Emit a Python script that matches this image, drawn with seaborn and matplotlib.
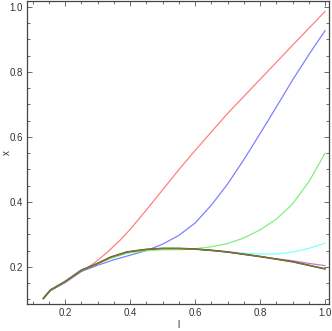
import numpy as np
import pandas as pd
import seaborn as sns
import matplotlib.pyplot as plt
from matplotlib.ticker import MultipleLocator

# values
l_red = [0.133, 0.155, 0.2, 0.25, 0.29, 0.33, 0.37, 0.4, 0.45, 0.5, 0.55, 0.6, 0.7, 0.8, 0.9, 1.0]
x_red = [0.102, 0.127, 0.152, 0.186, 0.212, 0.245, 0.283, 0.315, 0.375, 0.437, 0.499, 0.558, 0.672, 0.777, 0.882, 0.986]

l_blue = [0.133, 0.155, 0.2, 0.25, 0.3, 0.35, 0.4, 0.45, 0.5, 0.55, 0.6, 0.65, 0.7, 0.75, 0.8, 0.85, 0.9, 0.95, 1.0]
x_blue = [0.102, 0.127, 0.152, 0.186, 0.205, 0.222, 0.236, 0.25, 0.27, 0.297, 0.335, 0.39, 0.455, 0.53, 0.61, 0.692, 0.775, 0.853, 0.927]

l_green = [0.133, 0.155, 0.2, 0.25, 0.29, 0.34, 0.39, 0.45, 0.5, 0.55, 0.6, 0.65, 0.7, 0.75, 0.8, 0.85, 0.9, 0.95, 1.0]
x_green = [0.102, 0.128, 0.154, 0.189, 0.205, 0.226, 0.242, 0.25, 0.253, 0.253, 0.256, 0.262, 0.272, 0.289, 0.314, 0.347, 0.394, 0.462, 0.55]

l_dark = [0.133, 0.155, 0.2, 0.25, 0.29, 0.34, 0.39, 0.45, 0.5, 0.55, 0.6, 0.65, 0.7, 0.75, 0.8, 0.85, 0.9, 0.95, 1.0]
x_dark = [0.103, 0.129, 0.155, 0.19, 0.206, 0.23, 0.246, 0.254, 0.257, 0.257, 0.255, 0.251, 0.246, 0.239, 0.232, 0.224, 0.216, 0.205, 0.194]

l_purple = [0.6, 0.65, 0.7, 0.75, 0.8, 0.85, 0.9, 0.95, 1.0]
x_purple = [0.255, 0.251, 0.246, 0.239, 0.232, 0.225, 0.219, 0.211, 0.204]

l_cyan = [0.6, 0.65, 0.7, 0.75, 0.8, 0.85, 0.9, 0.95, 1.0]
x_cyan = [0.256, 0.252, 0.247, 0.242, 0.24, 0.24, 0.246, 0.257, 0.273]

series = [
    ("red", l_red, x_red, "#ff8080", 0.9),
    ("blue", l_blue, x_blue, "#8080ff", 0.9),
    ("green", l_green, x_green, "#80f080", 0.9),
    ("cyan", l_cyan, x_cyan, "#80ffff", 0.9),
    ("purple", l_purple, x_purple, "#c080c0", 0.9),
    ("darkgreen", l_dark, x_dark, "#2f6a2f", 1.2),
    ("orange", l_dark, x_dark, "#9a6a30", 0.8),
]

sns.set_style("ticks")
plt.rcParams['font.family'] = ['Liberation Sans', 'DejaVu Sans']

fig = plt.figure(figsize=(3.32, 3.31), dpi=100)
ax = fig.add_axes([27 / 332, 27 / 331, 302 / 332, 303 / 331])

for name, l, x, color, lw in series:
    df = pd.DataFrame({'l': l, 'x': x})
    sns.lineplot(data=df, x='l', y='x', color=color, linewidth=lw, ax=ax, sort=False)

ax.set_xlim(0.083, 1.012)
ax.set_ylim(0.086, 1.018)
ax.xaxis.set_major_locator(MultipleLocator(0.2))
ax.xaxis.set_minor_locator(MultipleLocator(0.05))
ax.yaxis.set_major_locator(MultipleLocator(0.2))
ax.yaxis.set_minor_locator(MultipleLocator(0.05))
ax.tick_params(which='both', direction='in', top=True, right=True, labelsize=7,
               colors='#555555', labelcolor='#333333', width=0.6, pad=3)
ax.tick_params(which='major', length=3.5)
ax.tick_params(which='minor', length=2)
for s in ax.spines.values():
    s.set_color('#444444')
    s.set_linewidth(0.9)
ax.set_xlabel('l', fontsize=7, color='#333333')
ax.set_ylabel('x', fontsize=7, color='#333333')
ax.xaxis.set_label_coords(0.5, -0.069, transform=ax.transAxes)
ax.yaxis.set_label_coords(-0.066, 0.5, transform=ax.transAxes)
ax.xaxis.label.set_va('center')
ax.yaxis.label.set_va('center')

fig.savefig('out.png', dpi=100)
